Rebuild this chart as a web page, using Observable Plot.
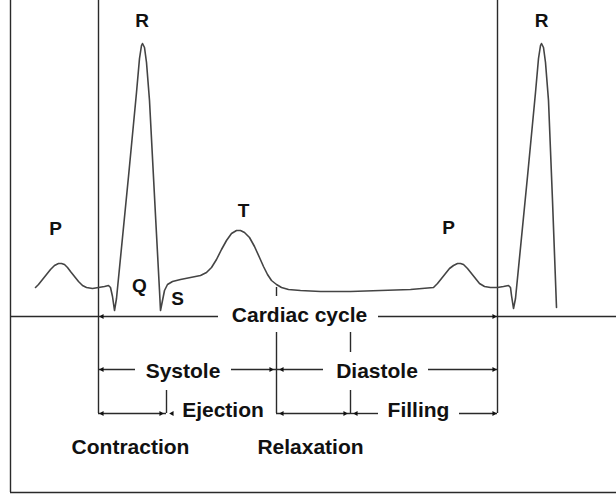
<!DOCTYPE html>
<html><head><meta charset="utf-8">
<script src="https://cdn.jsdelivr.net/npm/d3@7"></script>
<script src="https://cdn.jsdelivr.net/npm/@observablehq/plot@0.6"></script>
<style>html,body{margin:0;padding:0;background:#fff}</style>
</head><body><div id="chart"></div>
<script>
// ECG trace: time in ms (0 = start of cardiac cycle), voltage in mV
const ecgTime = [-126,-120,-112,-104,-96,-88,-80,-74,-68,-62,-56,-48,-40,-32,-24,-12,0,12,20,24,28,32,36,60,76,82,86,88,92,96,102,114,122,124,128,132,138,148,164,184,204,216,226,236,246,256,266,276,284,292,302,312,322,330,338,346,356,366,380,404,444,504,564,624,670,678,686,694,702,710,718,724,730,738,746,754,762,772,784,798,810,820,824,826,830,834,858,874,880,884,886,890,894,900,908,916];
const ecgVolt = [0,0.015,0.04,0.065,0.09,0.11,0.12,0.12,0.115,0.10,0.08,0.055,0.03,0.01,0,-0.005,0,0.005,0.01,0,-0.045,-0.115,-0.055,0.555,0.975,1.145,1.21,1.22,1.20,1.125,0.935,0.36,-0.015,-0.115,-0.065,-0.015,0.015,0.03,0.04,0.05,0.06,0.075,0.10,0.14,0.19,0.235,0.27,0.285,0.285,0.275,0.25,0.205,0.15,0.105,0.065,0.035,0.015,0,-0.01,-0.015,-0.02,-0.02,-0.015,-0.01,0,0.02,0.045,0.07,0.095,0.11,0.12,0.12,0.115,0.095,0.07,0.045,0.02,0.005,0,0,0.005,0.01,0,-0.04,-0.105,-0.055,0.555,0.975,1.145,1.21,1.22,1.20,1.125,0.935,0.435,-0.10];

// Wave letters
const waveNames = ["P","R","Q","S","T","P","R"];
const waveTime  = [-86,87,82,158,290,700,886];
const waveVolt  = [0.295,1.335,0.01,-0.055,0.385,0.30,1.335];

// Phase labels
const phaseNames = ["Cardiac cycle","Systole","Diastole","Ejection","Filling","Contraction","Relaxation"];
const phaseTime  = [402,169,557,249,640,64,424];
const phaseVolt  = [-0.14,-0.42,-0.42,-0.615,-0.615,-0.80,-0.80];

// Vertical guide segments (time, from mV, to mV)
const vTime = [-176,0,798,356,356,504,504,136];
const vFrom = [1.435,1.435,1.435,-0.225,0,-0.225,-0.515,-0.515];
const vTo   = [-1.025,-0.63,-0.63,-0.63,-0.045,-0.325,-0.63,-0.63];

// Horizontal guide segments (mV level, from ms, to ms)
const hVolt = [-0.145,-0.145,-0.41,-0.41,-0.41,-0.41,-0.63,-0.63,-0.63,-0.63,-1.025];
const hFrom = [-176,560,0,266,356,660,0,356,504,722,-176];
const hTo   = [240,1036,74,356,450,798,136,504,560,798,1036];

// Arrow tips
const rightTipTime = [798,352,798,132,500,798];
const rightTipVolt = [-0.145,-0.41,-0.41,-0.63,-0.63,-0.63];
const leftTipTime  = [0,0,360,0,140,360,508];
const leftTipVolt  = [-0.145,-0.41,-0.41,-0.63,-0.63,-0.63,-0.63];

const ecg = ecgTime.map((t,i)=>({t, v: ecgVolt[i]}));
const waves = waveNames.map((s,i)=>({s, t: waveTime[i], v: waveVolt[i]}));
const phases = phaseNames.map((s,i)=>({s, t: phaseTime[i], v: phaseVolt[i]}));
const vSegs = vTime.map((t,i)=>({t, a: vFrom[i], b: vTo[i]}));
const hSegs = hVolt.map((v,i)=>({v, a: hFrom[i], b: hTo[i]}));
const rTips = rightTipTime.map((t,i)=>({t, v: rightTipVolt[i]}));
const lTips = leftTipTime.map((t,i)=>({t, v: leftTipVolt[i]}));

const FONT = "'Liberation Sans', Arial, Helvetica, sans-serif";
const LINE = "#2a2a2a";

const chart = Plot.plot({
  width: 616,
  height: 497,
  margin: 0,
  style: {background: "#fff", fontFamily: FONT},
  x: {domain: [-196, 1036], axis: null},
  y: {domain: [-1.05, 1.435], axis: null},
  marks: [
    Plot.ruleX(vSegs, {x: "t", y1: "a", y2: "b", stroke: LINE, strokeWidth: 1.4}),
    Plot.ruleY(hSegs, {y: "v", x1: "a", x2: "b", stroke: LINE, strokeWidth: 1.4}),
    Plot.dot(rTips, {x: "t", y: "v", symbol: "triangle2", r: 2.4, rotate: 90, dx: -3.6, fill: "#111", stroke: "none"}),
    Plot.dot(lTips, {x: "t", y: "v", symbol: "triangle2", r: 2.4, rotate: -90, dx: 3.6, fill: "#111", stroke: "none"}),
    Plot.line(ecg, {x: "t", y: "v", stroke: "#444", strokeWidth: 1.6, curve: "linear"}),
    Plot.text(waves, {x: "t", y: "v", text: "s", fontSize: 19, fontWeight: "bold", fontFamily: FONT, fill: "#111"}),
    Plot.text(phases, {x: "t", y: "v", text: "s", fontSize: 21, fontWeight: "bold", fontFamily: FONT, fill: "#111"})
  ]
});
document.getElementById("chart").appendChild(chart);
</script>
</body></html>
